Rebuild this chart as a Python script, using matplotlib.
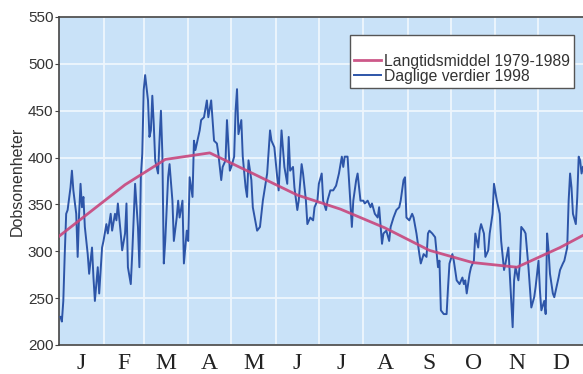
import matplotlib.pyplot as plt

# Daglige verdier 1998 (dag i året, Dobsonenheter)
daily_days = [
    1, 2, 3, 4, 5, 6, 8, 9, 10, 12, 13, 14, 15, 16, 17, 18, 20, 21, 23, 24,
    25, 27, 28, 30, 31, 33, 34, 36, 37, 39, 40, 41, 43, 44, 46, 47, 48, 50, 51, 53,
    55, 56, 57, 58, 59, 60, 62, 63, 64, 65, 66, 67, 69, 70, 71, 72, 73, 74, 76, 77,
    79, 80, 82, 83, 84, 86, 87, 89, 90, 91, 93, 94, 95, 96, 98, 99, 101, 103, 104, 106,
    107, 108, 110, 111, 113, 114, 116, 117, 119, 120, 122, 123, 124, 125, 127, 128, 130, 131, 132, 134,
    135, 138, 140, 142, 145, 147, 148, 150, 152, 153, 155, 157, 159, 160, 161, 163, 164, 166, 167, 169,
    170, 172, 173, 175, 177, 178, 180, 181, 183, 184, 186, 187, 189, 191, 193, 195, 197, 198, 199, 201,
    202, 204, 205, 207, 208, 210, 212, 213, 215, 217, 218, 220, 222, 223, 225, 226, 228, 230, 231, 233,
    235, 237, 238, 240, 241, 242, 244, 246, 247, 249, 251, 252, 254, 256, 257, 258, 260, 262, 264, 265,
    266, 268, 270, 271, 272, 274, 275, 277, 279, 281, 282, 283, 284, 286, 287, 289, 290, 292, 293, 294,
    296, 297, 299, 300, 302, 303, 305, 307, 308, 310, 311, 313, 314, 316, 317, 318, 320, 321, 322, 324,
    325, 327, 328, 329, 331, 332, 334, 335, 336, 338, 339, 340, 341, 342, 344, 345, 347, 348, 349, 351,
    352, 354, 355, 356, 357, 358, 360, 361, 362, 363, 364, 365,
]
daily_values = [
    230, 225, 247, 297, 340, 344, 368, 386, 365, 340, 294, 340, 372, 347, 358, 326, 297, 276, 304, 272,
    247, 283, 255, 304, 311, 329, 319, 340, 322, 340, 333, 351, 319, 301, 319, 351, 283, 265, 297, 372,
    326, 283, 379, 404, 472, 488, 461, 422, 429, 466, 436, 397, 383, 418, 450, 404, 287, 311, 379, 393,
    354, 311, 336, 354, 336, 354, 287, 322, 311, 379, 358, 418, 408, 415, 429, 440, 443, 461, 443, 461,
    440, 418, 415, 404, 376, 390, 397, 440, 386, 390, 401, 450, 473, 425, 440, 401, 368, 358, 397, 376,
    347, 322, 326, 354, 383, 429, 418, 411, 379, 365, 429, 390, 372, 422, 386, 390, 368, 344, 354, 393,
    383, 354, 329, 336, 333, 347, 354, 372, 383, 354, 344, 354, 365, 365, 370, 383, 401, 390, 401, 401,
    376, 326, 354, 376, 383, 354, 354, 351, 354, 347, 351, 340, 336, 347, 308, 319, 322, 311, 326, 336,
    344, 347, 354, 376, 379, 336, 333, 340, 336, 319, 297, 287, 297, 294, 319, 322, 319, 315, 283, 290,
    237, 233, 233, 262, 287, 297, 290, 269, 265, 272, 265, 269, 255, 276, 283, 290, 319, 304, 322, 329,
    319, 294, 301, 319, 340, 372, 354, 340, 311, 280, 287, 304, 276, 219, 269, 283, 269, 287, 326, 322,
    319, 283, 262, 240, 251, 262, 290, 258, 237, 247, 233, 319, 301, 276, 255, 251, 265, 272, 280, 287,
    290, 304, 354, 383, 368, 340, 329, 358, 401, 397, 383, 390,
]

# Langtidsmiddel 1979-1989, midt i hver måned
mean_days = [0, 15, 46, 74, 105, 135, 166, 196, 227, 258, 288, 319, 349, 365]
mean_values = [316, 334, 371, 398, 405, 383, 360, 345, 325, 301, 288, 283, 304, 317]

month_letters = ["J", "F", "M", "A", "M", "J", "J", "A", "S", "O", "N", "D"]
month_starts = [0, 31, 59, 90, 120, 151, 181, 212, 243, 273, 304, 334, 365]
month_mids = [(a + b) / 2 for a, b in zip(month_starts[:-1], month_starts[1:])]

plt.rcParams["font.family"] = ["Liberation Sans", "DejaVu Sans"]

fig = plt.figure(figsize=(5.83, 3.74), dpi=100)
ax = fig.add_axes([59 / 583, 1 - 345 / 374, 1 - 59 / 583, (345 - 17) / 374])
ax.set_facecolor("#c9e2f8")

ax.plot(daily_days, daily_values, color="#2d55a8", lw=1.4, zorder=3,
        label="Daglige verdier 1998")
ax.plot(mean_days, mean_values, color="#c8467c", lw=2.0, alpha=0.9, zorder=4,
        label="Langtidsmiddel 1979-1989")

ax.set_xlim(0, 365)
ax.set_ylim(200, 550)
ax.set_yticks(range(200, 551, 50))

ax.set_xticks(month_mids)
ax.set_xticklabels(month_letters, family="Liberation Serif", fontsize=17, color="#222222")
ax.set_xticks(month_starts[1:-1], minor=True)
ax.tick_params(axis="x", which="both", length=0, pad=6)
ax.tick_params(axis="y", length=3, width=0.8, color="#444444", labelsize=11,
               labelcolor="#333333", pad=1)

ax.grid(True, axis="y", color="#eef6fd", lw=1.3)
ax.grid(True, axis="x", which="minor", color="#eef6fd", lw=1.3)
ax.set_axisbelow(True)

for side in ["left", "bottom", "top"]:
    ax.spines[side].set_color("#444444")
    ax.spines[side].set_linewidth(1.2)
ax.spines["right"].set_visible(False)

ax.set_ylabel("Dobsonenheter", fontsize=11.5, color="#333333", labelpad=2)

handles, labels = ax.get_legend_handles_labels()
leg = ax.legend(handles[::-1], labels[::-1], loc="upper left",
                bbox_to_anchor=(291 / 524, 1 - 18 / 328), borderaxespad=0,
                fontsize=11.3, frameon=True, fancybox=False, borderpad=0.25,
                labelspacing=0.0, handlelength=1.7, handletextpad=0.2,
                title=" ", title_fontsize=12)
leg.get_frame().set_edgecolor("#555555")
leg.get_frame().set_linewidth(1.0)
leg.get_frame().set_facecolor("white")
leg.get_frame().set_alpha(1)
for t in leg.get_texts():
    t.set_color("#333333")

fig.savefig("out.png", dpi=100)
